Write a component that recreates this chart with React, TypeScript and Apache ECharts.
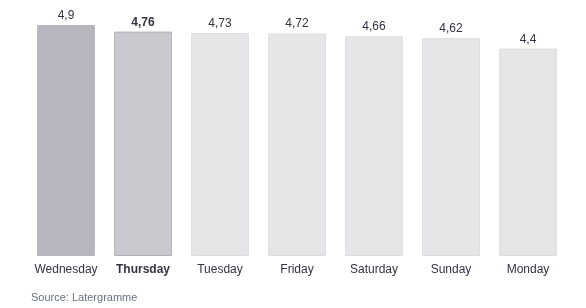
import React, { useEffect, useRef } from "react";
import * as echarts from "echarts";

const days = ["Wednesday", "Thursday", "Tuesday", "Friday", "Saturday", "Sunday", "Monday"];
const values = [4.9, 4.76, 4.73, 4.72, 4.66, 4.62, 4.4];
const source = "Source: Latergramme";

export default function App() {
  const ref = useRef<HTMLDivElement>(null);
  useEffect(() => {
    const chart = echarts.init(ref.current!, null, { renderer: "svg" });
    const fills = ["#b6b6bf", "#c9c9cf", "#e6e6e8", "#e6e6e8", "#e6e6e8", "#e6e6e8", "#e6e6e8"];
    const borders = ["#b6b6bf", "#b0b0b6", "#dddde0", "#dddde0", "#dddde0", "#dddde0", "#dddde0"];
    chart.setOption({
      animation: false,
      textStyle: { fontFamily: "Liberation Sans, Arial, sans-serif" },
      grid: { left: 27.5, top: 25, width: 539, height: 231 },
      xAxis: {
        type: "category",
        data: days,
        axisLine: { show: false },
        axisTick: { show: false },
        axisLabel: {
          margin: 7,
          fontSize: 12,
          color: "#333344",
          interval: 0,
          formatter: (v: string) => (v === "Thursday" ? "{b|" + v + "}" : v),
          rich: { b: { fontWeight: "bold", fontSize: 12, color: "#333344" } },
        },
      },
      yAxis: { type: "value", min: 0, max: 4.9, show: false, splitLine: { show: false } },
      series: [
        {
          type: "bar",
          barCategoryGap: "25%",
          data: values.map((v, i) => ({
            value: v,
            itemStyle: { color: fills[i], borderColor: borders[i], borderWidth: 1 },
            label: i === 1 ? { fontWeight: "bold" } : {},
          })),
          label: {
            show: true,
            position: "top",
            distance: 4,
            fontSize: 12,
            color: "#333344",
            formatter: (p: any) => String(p.value).replace(".", ","),
          },
        },
      ],
      graphic: [
        {
          type: "text",
          left: 31,
          top: 291,
          style: { text: source, fontSize: 11, fill: "#6a7480", fontFamily: "Liberation Sans, Arial, sans-serif" },
        },
      ],
    });
    return () => chart.dispose();
  }, []);
  return <div ref={ref} style={{ position: "fixed", left: 0, top: 0, width: 586, height: 308 }} />;
}
